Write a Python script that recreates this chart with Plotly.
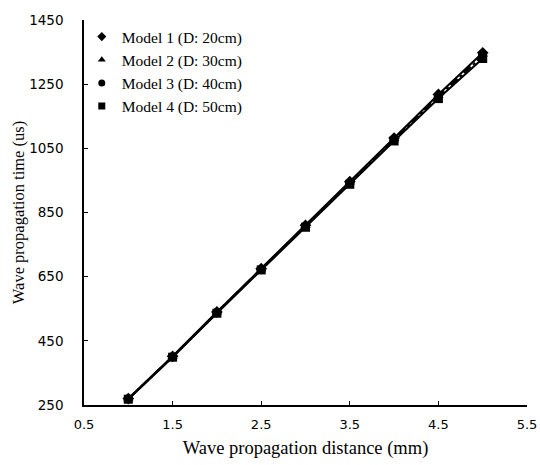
import plotly.graph_objects as go

distance = [1.0, 1.5, 2.0, 2.5, 3.0, 3.5, 4.0, 4.5, 5.0]
model1 = [270, 402, 540, 675, 810, 946, 1082, 1218, 1348]
model2 = [269, 401, 539, 674, 809, 944, 1080, 1215, 1343]
model3 = [269, 400, 538, 673, 807, 942, 1077, 1211, 1338]
model4 = [268, 399, 536, 671, 804, 938, 1073, 1205, 1330]

names = ["Model 1 (D: 20cm)", "Model 2 (D: 30cm)", "Model 3 (D: 40cm)", "Model 4 (D: 50cm)"]
series = [model1, model2, model3, model4]
symbols = ["diamond", "triangle-up", "circle", "square"]
dashes = ["solid", "dash", "dashdot", "solid"]

fig = go.Figure()
for name, ys, sym, dsh in zip(names, series, symbols, dashes):
    fig.add_trace(go.Scatter(x=distance, y=ys, mode="lines+markers", name=name,
                             line=dict(color="black", width=2, dash=dsh),
                             marker=dict(symbol=sym, size=9, color="black"),
                             showlegend=False))
for name, sym in zip(names, symbols):
    fig.add_trace(go.Scatter(x=[None], y=[None], mode="markers", name=name,
                             marker=dict(symbol=sym, size=7, color="black"),
                             showlegend=True))

fig.update_layout(
    width=540, height=465,
    margin=dict(l=84, r=13, t=20, b=60),
    paper_bgcolor="white", plot_bgcolor="white",
    font=dict(family="Liberation Serif", color="black"),
    showlegend=True,
    legend=dict(x=-0.005, y=1.0, xanchor="left", yanchor="top",
                font=dict(family="Liberation Serif", size=15.5, color="black"),
                bgcolor="rgba(0,0,0,0)", itemwidth=30, tracegroupgap=0,
                itemsizing="trace"),
    xaxis=dict(range=[0.5, 5.5], tickvals=[0.5, 1.5, 2.5, 3.5, 4.5, 5.5],
               ticktext=["0.5", "1.5", "2.5", "3.5", "4.5", "5.5"], automargin=False,
               showgrid=False, zeroline=False, showline=True, linecolor="black", linewidth=1.5,
               ticks="inside", ticklen=4, tickcolor="black", ticklabelstandoff=7,
               tickfont=dict(family="DejaVu Sans", size=13, color="black"),
               title=dict(text="Wave propagation distance (mm)",
                          font=dict(family="Liberation Serif", size=18.5, color="black"), standoff=10)),
    yaxis=dict(range=[250, 1450], tickvals=[250, 450, 650, 850, 1050, 1250, 1450],
               automargin=False,
               showgrid=False, zeroline=False, showline=True, linecolor="black", linewidth=1.5,
               ticks="inside", ticklen=4, tickcolor="black", ticklabelstandoff=16,
               tickfont=dict(family="DejaVu Sans", size=13.5, color="black"),
               title=dict(text="Wave propagation time (us)",
                          font=dict(family="Liberation Serif", size=16.5, color="black"), standoff=0)),
)

fig.write_html("out.html")
